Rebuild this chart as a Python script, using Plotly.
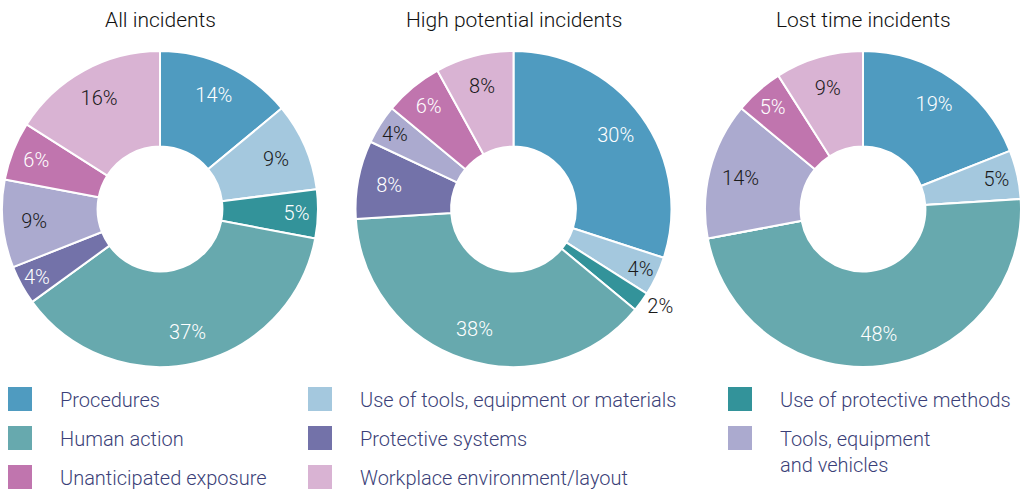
import plotly.graph_objects as go

# Incident cause categories (shared by all three charts)
categories = [
    "Procedures",
    "Use of tools, equipment or materials",
    "Use of protective methods",
    "Human action",
    "Protective systems",
    "Tools, equipment<br>and vehicles",
    "Unanticipated exposure",
    "Workplace environment/layout",
]

colors = ["#4f9bc0", "#a4c8de", "#33939a", "#67a9ae",
          "#7372a9", "#abaacf", "#c075ae", "#d9b3d3"]

# Percentage share per category
all_incidents = [14, 9, 5, 37, 4, 9, 6, 16]
high_potential = [30, 4, 2, 38, 8, 4, 6, 8]
lost_time = [19, 5, 0, 48, 0, 14, 5, 9]

titles = ["All incidents", "High potential incidents", "Lost time incidents"]

# Label colour per category (white on darker slices)
label_colors = ["white", "#1a1a1a", "white", "white",
                "white", "#1a1a1a", "white", "#1a1a1a"]

W, H = 1025, 489
centers_x = [160, 513.5, 863]
center_y = 209
radius = 158

fig = go.Figure()

for title, values, cx in zip(titles, [all_incidents, high_potential, lost_time], centers_x):
    texts = [f"{v}%" if v > 0 else "" for v in values]
    positions = ["outside" if 0 < v < 3 else "inside" for v in values]
    fcolors = ["#1a1a1a" if p == "outside" else c for p, c in zip(positions, label_colors)]
    domain = dict(
        x=[(cx - radius) / W, (cx + radius) / W],
        y=[1 - (center_y + radius) / H, 1 - (center_y - radius) / H],
    )
    # coloured donut ring
    fig.add_trace(go.Pie(
        labels=categories, values=values,
        textinfo="none",
        hole=0.395, sort=False, direction="clockwise", rotation=0,
        marker=dict(colors=colors, line=dict(color="white", width=2)),
        showlegend=False, domain=domain,
        hoverinfo="label+percent",
    ))
    # transparent ring on the outer part of the donut carrying the percentage labels
    fig.add_trace(go.Pie(
        labels=categories, values=values,
        text=texts, textinfo="text", textposition=positions,
        insidetextorientation="horizontal",
        textfont=dict(family="Roboto", size=20, weight=300, color=fcolors),
        hole=0.6, sort=False, direction="clockwise", rotation=0,
        marker=dict(colors=["rgba(0,0,0,0)"] * len(values), line=dict(width=0)),
        showlegend=False, domain=domain, hoverinfo="skip",
    ))
    fig.add_annotation(
        text=title, x=cx / W, y=1 - 20 / H, xref="paper", yref="paper",
        showarrow=False, xanchor="center", yanchor="middle",
        font=dict(family="Roboto", size=21, weight=300, color="#111111"),
    )

# Legend grid: three columns, row-major order
col_x = [8, 308, 728]
row_y = [399, 438, 477]
for i, (name, col) in enumerate(zip(categories, colors)):
    r, c = divmod(i, 3)
    x0, yc = col_x[c], row_y[r]
    fig.add_shape(
        type="rect", xref="paper", yref="paper",
        x0=x0 / W, x1=(x0 + 24) / W,
        y0=1 - (yc + 12) / H, y1=1 - (yc - 12) / H,
        fillcolor=col, line=dict(width=0),
    )
    ty = 1 - (yc + 1) / H if "<br>" not in name else 1 - (yc + 14) / H
    fig.add_annotation(
        text=name, x=(x0 + 50) / W, y=ty,
        xref="paper", yref="paper", showarrow=False,
        xanchor="left", yanchor="middle", align="left",
        font=dict(family="Roboto", size=20, weight=300, color="#3b3f78"),
    )

fig.update_layout(
    width=W, height=H,
    margin=dict(l=0, r=0, t=0, b=0),
    paper_bgcolor="white", plot_bgcolor="white",
    uniformtext=dict(minsize=20, mode="show"),
)

fig.write_html("out.html")
